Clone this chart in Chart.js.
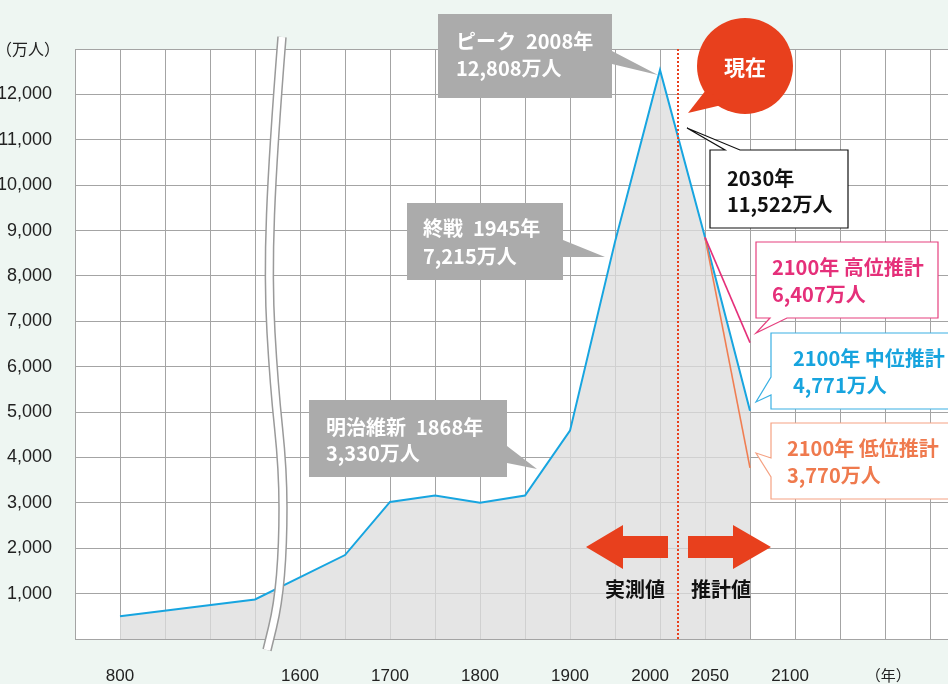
<!DOCTYPE html>
<html><head><meta charset="utf-8">
<script src="https://cdn.jsdelivr.net/npm/chart.js@4/dist/chart.umd.min.js"></script>
<style>html,body{margin:0;padding:0;background:#eef6f2;overflow:hidden}canvas{display:block}</style>
</head><body>
<canvas id="c" width="948" height="684"></canvas>
<script>
// ---- data (schematic x slots: one grid column per slot) ----
const slots = [1, 4, 6, 7, 8, 9, 10, 11, 12, 13, 14, 15];
const population = [500, 870, 1850, 3020, 3160, 3000, 3160, 4590, 8750, 12540, 8850, 5030];
const projSlots = [14, 15];
const highProjection = [8850, 6530];
const lowProjection = [8850, 3770];
const xTickSlots = [1, 5, 7, 9, 11, 12.78, 14.11, 15.89, 18.07];
const xTickLabels = ['800', '1600', '1700', '1800', '1900', '2000', '2050', '2100', '（年）'];
const yTickValues = [1000, 2000, 3000, 4000, 5000, 6000, 7000, 8000, 9000, 10000, 11000, 12000];
const nowSlot = 13.4;

const GRID = '#a4a4a4';
const RED = '#e8401d';
const CJK = "'Noto Sans CJK JP', sans-serif";

function poly(ctx, pts, fill, stroke, lw) {
  ctx.beginPath();
  pts.forEach((p, i) => i ? ctx.lineTo(p[0], p[1]) : ctx.moveTo(p[0], p[1]));
  ctx.closePath();
  if (fill) { ctx.fillStyle = fill; ctx.fill(); }
  if (stroke) { ctx.strokeStyle = stroke; ctx.lineWidth = lw; ctx.lineJoin = 'miter'; ctx.stroke(); }
}
function text(ctx, lines, x, ys, color, font, align) {
  ctx.fillStyle = color; ctx.font = font; ctx.textAlign = align || 'left'; ctx.textBaseline = 'middle';
  lines.forEach((l, i) => ctx.fillText(l, x, ys[i]));
}

const bgPlugin = {
  id: 'bg',
  beforeDraw(chart) {
    const { ctx, chartArea: a } = chart;
    ctx.save();
    ctx.fillStyle = '#eef6f2'; ctx.fillRect(0, 0, chart.width, chart.height);
    ctx.fillStyle = '#ffffff'; ctx.fillRect(a.left, a.top, a.right - a.left, a.bottom - a.top);
    ctx.restore();
  }
};

const overlayPlugin = {
  id: 'overlay',
  afterDatasetsDraw(chart) {
    const { ctx, chartArea: a, scales } = chart;
    ctx.save();
    // current-year dotted line
    const nx = Math.round(scales.x.getPixelForValue(nowSlot));
    ctx.strokeStyle = RED; ctx.lineWidth = 2; ctx.setLineDash([2, 2]);
    ctx.beginPath(); ctx.moveTo(nx, a.top); ctx.lineTo(nx, a.bottom); ctx.stroke();
    ctx.setLineDash([]);
    // axis break
    const p = [[282, 37], [273, 150], [268, 280], [274, 385], [283, 470], [283, 545], [278, 605], [267, 650]];
    const path = () => {
      ctx.beginPath(); ctx.moveTo(p[0][0], p[0][1]);
      for (let i = 1; i < p.length - 1; i++) {
        const mx = (p[i][0] + p[i + 1][0]) / 2, my = (p[i][1] + p[i + 1][1]) / 2;
        ctx.quadraticCurveTo(p[i][0], p[i][1], mx, my);
      }
      ctx.lineTo(p[p.length - 1][0], p[p.length - 1][1]);
    };
    ctx.lineCap = 'butt';
    path(); ctx.strokeStyle = '#9a9a9a'; ctx.lineWidth = 9.5; ctx.stroke();
    path(); ctx.strokeStyle = '#ffffff'; ctx.lineWidth = 6.5; ctx.stroke();
    ctx.restore();
  },
  afterDraw(chart) {
    const ctx = chart.ctx;
    ctx.save();
    const GRAY = '#ababab';
    const F = 'bold 20px ' + CJK;
    // gray callouts
    poly(ctx, [[438, 14], [612, 14], [612, 51], [658, 75], [612, 64], [612, 98], [438, 98]], GRAY);
    text(ctx, ['ピーク\u20022008年', '12,808万人'], 456, [41, 68], '#fff', F);
    poly(ctx, [[407, 203], [563, 203], [563, 240], [605, 257], [563, 257], [563, 280], [407, 280]], GRAY);
    text(ctx, ['終戦\u20021945年', '7,215万人'], 423, [228, 256], '#fff', F);
    poly(ctx, [[309, 400], [507, 400], [507, 446], [537, 469], [507, 463], [507, 477], [309, 477]], GRAY);
    text(ctx, ['明治維新\u20021868年', '3,330万人'], 326, [427, 453], '#fff', F);
    // now bubble
    ctx.fillStyle = RED;
    ctx.beginPath(); ctx.arc(745, 66, 48, 0, Math.PI * 2); ctx.fill();
    poly(ctx, [[706, 90], [688, 113], [726, 104]], RED);
    text(ctx, ['現在'], 745, [67], '#fff', 'bold 21px ' + CJK, 'center');
    // 2030 box
    poly(ctx, [[710, 150], [725, 150], [687, 128], [740, 150], [848, 150], [848, 228], [710, 228]], '#fff', '#111', 1.2);
    text(ctx, ['2030年', '11,522万人'], 727, [178, 204], '#111', F);
    // projections
    poly(ctx, [[756, 242], [938, 242], [938, 318], [787, 318], [756, 333], [770, 318], [756, 318]], '#fff', '#e6407f', 1.2);
    text(ctx, ['2100年 高位推計', '6,407万人'], 772, [267, 294], '#e5307a', F);
    poly(ctx, [[771, 333], [970, 333], [970, 409], [771, 409], [771, 395], [756, 402], [771, 377]], '#fff', '#3ab0e3', 1.2);
    text(ctx, ['2100年 中位推計', '4,771万人'], 793, [358, 385], '#17a4de', F);
    poly(ctx, [[771, 423], [970, 423], [970, 499], [771, 499], [771, 477], [756, 453], [771, 458]], '#fff', '#f5a283', 1.2);
    text(ctx, ['2100年 低位推計', '3,770万人'], 787, [448, 475], '#ef7a4e', F);
    // arrows
    poly(ctx, [[586, 547], [623, 525], [623, 536], [668, 536], [668, 558], [623, 558], [623, 569]], RED);
    poly(ctx, [[771, 547], [733, 525], [733, 536], [688, 536], [688, 558], [733, 558], [733, 569]], RED);
    text(ctx, ['実測値'], 635, [589], '#111', 'bold 20px ' + CJK, 'center');
    text(ctx, ['推計値'], 721, [589], '#111', 'bold 20px ' + CJK, 'center');
    // unit label
    text(ctx, ['（万人）'], 28, [49], '#222', '16px ' + CJK, 'center');
    ctx.restore();
  }
};

const toXY = (xs, ys) => xs.map((x, i) => ({ x, y: ys[i] }));

new Chart(document.getElementById('c'), {
  type: 'line',
  data: {
    datasets: [
      { data: toXY(projSlots, highProjection), borderColor: '#e5307a', borderWidth: 1.6, pointRadius: 0, fill: false },
      { data: toXY(projSlots, lowProjection), borderColor: '#f07e52', borderWidth: 1.6, pointRadius: 0, fill: false },
      { data: toXY(slots, population), borderColor: '#17a5e0', borderWidth: 2, pointRadius: 0, tension: 0,
        fill: 'origin', backgroundColor: 'rgba(221,221,221,0.77)' }
    ]
  },
  options: {
    responsive: false, animation: false, devicePixelRatio: 1,
    layout: { padding: { top: 49, left: 0, right: 0, bottom: 0 } },
    plugins: { legend: { display: false }, tooltip: { enabled: false } },
    scales: {
      x: {
        type: 'linear', min: 0, max: 19.4, position: 'bottom', weight: 0,
        afterBuildTicks: s => { const t = []; for (let i = 0; i <= 19; i++) t.push({ value: i }); s.ticks = t; },
        ticks: { display: false },
        grid: { color: GRID, lineWidth: 1, drawTicks: false },
        border: { color: GRID, width: 1 },
        afterFit: s => { s.height = 0; }
      },
      xl: {
        type: 'linear', min: 0, max: 19.4, position: 'bottom', weight: 1,
        afterBuildTicks: s => { s.ticks = xTickSlots.map(v => ({ value: v })); },
        ticks: {
          autoSkip: false, maxRotation: 0, minRotation: 0, padding: 27, color: '#222',
          font: c => (c.tick && c.tick.label === '（年）') ? { family: CJK, size: 15 } : { family: "'Liberation Sans', Arial, sans-serif", size: 17 },
          callback: (v, i) => xTickLabels[i]
        },
        grid: { display: false, drawTicks: false },
        border: { display: false },
        afterFit: s => { s.height = 45; }
      },
      y: {
        min: 0, max: 13000,
        afterBuildTicks: s => { const t = []; for (let v = 0; v <= 13000; v += 1000) t.push({ value: v }); s.ticks = t; },
        ticks: {
          padding: 23, color: '#222', font: { family: "'Liberation Sans', Arial, sans-serif", size: 18 },
          callback: v => yTickValues.includes(v) ? v.toLocaleString('en-US') : ''
        },
        grid: { color: GRID, lineWidth: 1, drawTicks: false },
        border: { color: GRID, width: 1 },
        afterFit: s => { s.width = 75; }
      }
    }
  },
  plugins: [bgPlugin, overlayPlugin]
});
</script>
</body></html>
